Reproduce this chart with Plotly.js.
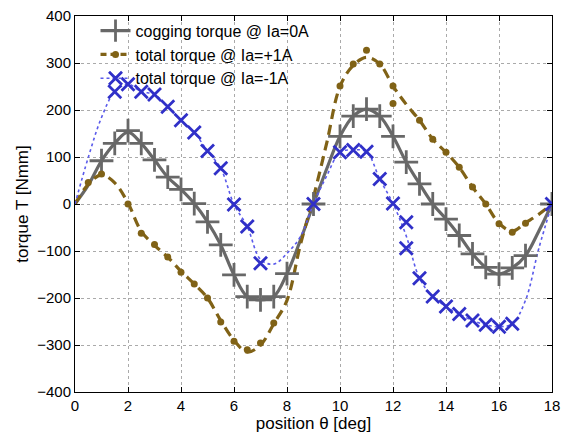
<!DOCTYPE html>
<html>
<head>
<meta charset="utf-8">
<script src="https://cdn.plot.ly/plotly-3.0.1.min.js"></script>
<style>html,body{margin:0;padding:0;background:#fff;}#chart{width:570px;height:436px;}</style>
</head>
<body>
<div id="chart"></div>
<script>
// Position grid for the fitted curves [deg]
const theta = [0,0.5,1,1.5,2,2.5,3,3.5,4,4.5,5,5.5,6,6.5,7,7.5,8,8.5,9,9.5,10,10.5,11,11.5,12,12.5,13,13.5,14,14.5,15,15.5,16,16.5,17,17.5,18];

// Cogging torque @ Ia=0A: fitted curve and marked points [Nmm]
const coggingCurve = [0,40,92,129,153,129,94,57,31,1,-38,-87,-151,-197,-204,-197,-148,-78,0,75,144,187,202,187,144,89,43,0,-32,-67,-106,-135,-149,-136,-110,-58,0];
const coggingPtsX = [1,1.5,2,2.5,3,3.5,4,4.5,5,5.5,6,6.5,7,7.5,8,9,10,10.5,11,11.5,12,12.5,13,13.5,14,14.5,15,15.5,16,16.5,17,18];
const coggingPtsY = [92,129,156,129,94,57,31,1,-38,-87,-151,-197,-204,-197,-148,0,144,187,202,187,144,89,43,0,-32,-67,-106,-135,-149,-136,-110,0];

// Total torque @ Ia=+1A
const plusCurve = [0,42,62,45,2,-58,-88,-113,-143,-170,-200,-248,-290,-315,-300,-255,-205,-88,15,130,250,295,312,298,251,212,178,138,110,78,36,0,-41,-58,-40,-22,0];
const plusPtsX = [0.5,1,2,2.5,3,3.5,4,4.5,5,5.5,6,6.5,7,7.5,10,10.5,11,11.5,12,12,13,13.5,14,14.5,15,15.5,16,16.5,17];
const plusPtsY = [46,64,0,-62,-86,-113,-145,-170,-200,-251,-292,-310,-296,-253,251,298,327,298,251,214,178,138,110,78,36,0,-42,-60,-41];

// Total torque @ Ia=-1A
const minusCurve = [0,99,184,239,255,239,233,207,178,152,113,76,-1,-48,-118,-128,-105,-70,0,60,110,115,111,53,1,-68,-158,-197,-218,-234,-248,-257,-261,-255,-205,-95,0];
const minusPtsX = [1.5,2,2.5,3,3.5,4,4.5,5,5.5,6,6.5,7,9,10,10.5,11,11.5,12,12.5,12.5,13,13.5,14,14.5,15,15.5,16,16.5,18];
const minusPtsY = [239,255,239,233,207,178,152,113,76,-1,-48,-126,0,110,115,111,53,1,-39,-94,-158,-197,-218,-234,-248,-257,-261,-255,0];

const legendNames = ['cogging torque @ Ia=0A','total torque @ Ia=+1A','total torque @ Ia=-1A'];

const grey = 'rgb(104,104,104)';
const olive = 'rgb(128,98,22)';
const blue = 'rgb(48,48,200)';
const blueLine = 'rgb(90,90,235)';
const fontFam = 'Liberation Sans, Arial, sans-serif';

const greyMarker = {symbol: 'cross-thin-open', size: 17, color: grey, line: {color: grey, width: 2.8}};
const oliveMarker = {symbol: 'circle', size: 7, color: olive};
const blueMarker = {symbol: 'x-thin-open', size: 13, color: blue, line: {color: blue, width: 2.8}};

const traces = [
  // curves
  {x: theta, y: coggingCurve, mode: 'lines', line: {color: grey, width: 3.2, shape: 'spline'}, showlegend: false, hoverinfo: 'skip'},
  {x: theta, y: plusCurve, mode: 'lines', line: {color: olive, width: 3.2, dash: '10px,6px', shape: 'spline'}, showlegend: false, hoverinfo: 'skip'},
  {x: theta, y: minusCurve, mode: 'lines', line: {color: blueLine, width: 1.6, dash: 'dot', shape: 'spline'}, showlegend: false, hoverinfo: 'skip'},
  // points
  {x: coggingPtsX, y: coggingPtsY, mode: 'markers', marker: greyMarker, showlegend: false},
  {x: plusPtsX, y: plusPtsY, mode: 'markers', marker: oliveMarker, showlegend: false},
  {x: minusPtsX, y: minusPtsY, mode: 'markers', marker: blueMarker, showlegend: false},
  // legend entries
  {x: [null], y: [null], name: legendNames[0], mode: 'lines+markers', line: {color: grey, width: 3.2}, marker: greyMarker},
  {x: [null], y: [null], name: legendNames[1], mode: 'lines+markers', line: {color: olive, width: 3.2, dash: '6px,4px'}, marker: oliveMarker},
  {x: [null], y: [null], name: legendNames[2], mode: 'lines+markers', line: {color: blueLine, width: 1.6, dash: 'dot'}, marker: blueMarker}
];

const axisCommon = {
  showline: true, linecolor: '#000', linewidth: 1, mirror: 'ticks',
  ticks: 'inside', ticklen: 5, tickcolor: '#000',
  showgrid: true, gridcolor: 'rgb(170,170,170)', griddash: 'dot', gridwidth: 1,
  zeroline: false,
  tickfont: {family: fontFam, size: 15, color: '#000'}
};

const layout = {
  width: 570, height: 436,
  margin: {l: 75, r: 18, t: 16, b: 44},
  paper_bgcolor: '#fff', plot_bgcolor: '#fff',
  font: {family: fontFam, color: '#000'},
  xaxis: Object.assign({}, axisCommon, {
    range: [0, 18], tickmode: 'linear', tick0: 0, dtick: 2,
    title: {text: 'position θ [deg]', font: {size: 17}, standoff: 2}
  }),
  yaxis: Object.assign({}, axisCommon, {
    range: [-400, 400], tickmode: 'linear', tick0: -400, dtick: 100,
    title: {text: 'torque T [Nmm]', font: {size: 17}, standoff: 4}
  }),
  showlegend: true,
  legend: {
    x: 0.043, y: 1.006, xanchor: 'left', yanchor: 'top',
    bgcolor: 'rgba(0,0,0,0)', borderwidth: 0,
    font: {family: fontFam, size: 16, color: '#000'},
    tracegroupgap: 0, itemwidth: 30
  }
};

Plotly.newPlot('chart', traces, layout, {displayModeBar: false, staticPlot: true});
</script>
</body>
</html>
